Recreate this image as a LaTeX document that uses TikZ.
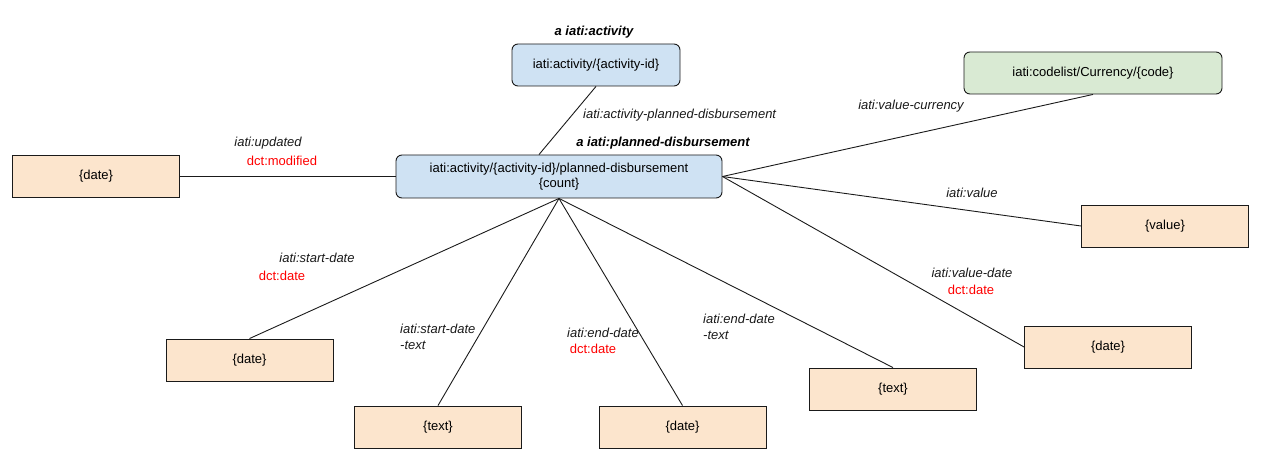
\documentclass[tikz,border=0pt]{standalone}
\usepackage{fontspec}
\setmainfont{Liberation Sans}
\usetikzlibrary{positioning}
\definecolor{resblue}{HTML}{CFE2F3}
\definecolor{litorange}{HTML}{FCE5CD}
\definecolor{codegreen}{HTML}{D9EAD3}
\definecolor{edgegray}{HTML}{1A1A1A}
\tikzset{
  resource/.style={draw=edgegray, line width=0.9pt, rounded corners=6pt, minimum width=168pt, minimum height=42pt, align=center, fill=resblue, font=\fontsize{13}{15.5}\selectfont},
  codebox/.style={resource, fill=codegreen, minimum width=258pt},
  literal/.style={draw=edgegray, line width=0.9pt, minimum width=167pt, minimum height=42pt, align=center, fill=litorange, font=\fontsize{13}{15.5}\selectfont},
  prop/.style={font=\fontsize{13}{15.5}\selectfont\itshape, inner sep=0pt, text=edgegray},
  dct/.style={font=\fontsize{13}{15.5}\selectfont, inner sep=0pt, text=red},
  kind/.style={font=\fontsize{13}{15.5}\selectfont\bfseries\itshape, inner sep=0pt},
  link/.style={line width=0.9pt, draw=edgegray}
}

\begin{document}
\begin{tikzpicture}[x=1pt, y=-1pt]
  \useasboundingbox (0,0) rectangle (1270,473);

  % resources
  \node[resource] (act) at (596,65) {iati:activity/\{activity-id\}};
  \node[resource, minimum width=326pt, minimum height=43pt] (pd) at (559,176.5) {iati:activity/\{activity-id\}/planned-disbursement\\\{count\}};
  \node[codebox] (cur) at (1093,73) {iati:codelist/Currency/\{code\}};
  \node[kind] (actkind) at (594,32) {a iati:activity};
  \node[kind] (pdkind) at (663,143) {a iati:planned-disbursement};

  % literals
  \node[literal] (upd) at (96,176.5) {\{date\}};
  \node[literal] (val) at (1165,226) {\{value\}};
  \node[literal] (sdate) at (249.5,360) {\{date\}};
  \node[literal] (stext) at (438,427) {\{text\}};
  \node[literal] (edate) at (682.5,427) {\{date\}};
  \node[literal] (etext) at (893,389) {\{text\}};
  \node[literal] (vdate) at (1108,347) {\{date\}};

  % links
  \draw[link] (act.south) -- ([xshift=-20pt]pd.north);
  \draw[link] (upd.east) -- (pd.west);
  \draw[link] (cur.south) -- (pd.east);
  \draw[link] (val.west) -- (pd.east);
  \draw[link] (vdate.west) -- (pd.east);
  \draw[link] (sdate.north) -- (pd.south);
  \draw[link] (stext.north) -- (pd.south);
  \draw[link] (edate.north) -- (pd.south);
  \draw[link] (etext.north) -- (pd.south);

  % property labels
  \node[prop, anchor=west] (l1) at (583,115) {iati:activity-planned-disbursement};
  \node[prop] (l2) at (268,143) {iati:updated};
  \node[dct] (l2b) at (282,161) {dct:modified};
  \node[prop] (l3) at (911,106) {iati:value-currency};
  \node[prop] (l4) at (972,193) {iati:value};
  \node[prop] (l5) at (317,258) {iati:start-date};
  \node[dct] (l5b) at (282,276) {dct:date};
  \node[prop, anchor=west, align=left] (l6) at (400,337) {iati:start-date\\-text};
  \node[prop] (l7) at (603,333) {iati:end-date};
  \node[dct] (l7b) at (593,349) {dct:date};
  \node[prop, anchor=west, align=left] (l8) at (703,327) {iati:end-date\\-text};
  \node[prop] (l9) at (972,273) {iati:value-date};
  \node[dct] (l9b) at (971,290) {dct:date};
\end{tikzpicture}
\end{document}
